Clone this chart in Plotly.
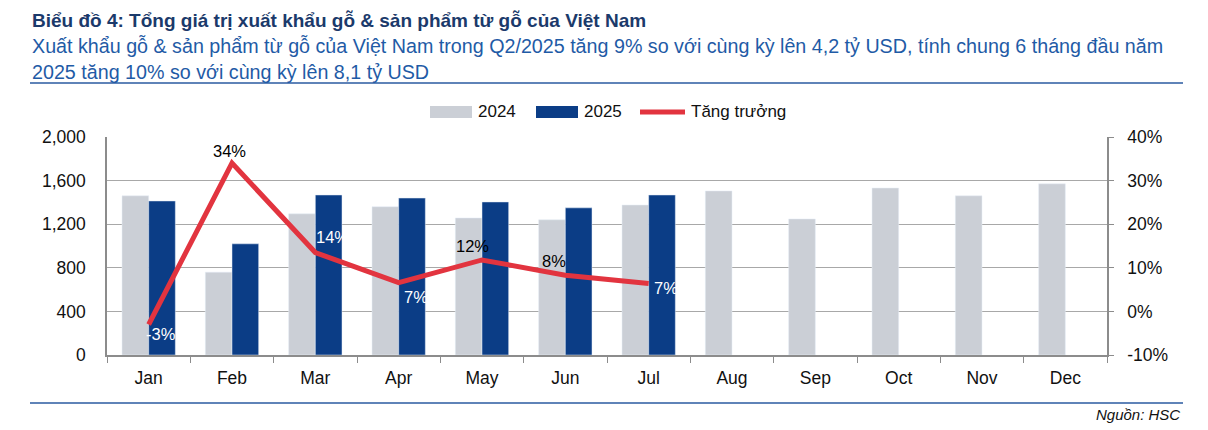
"""
Biểu đồ 4: giá trị xuất khẩu gỗ & sản phẩm từ gỗ của Việt Nam (2024 vs 2025) + tăng trưởng.
"""
import plotly.graph_objects as go

months = ["Jan", "Feb", "Mar", "Apr", "May", "Jun", "Jul", "Aug", "Sep", "Oct", "Nov", "Dec"]
export_2024 = [1460, 760, 1295, 1360, 1257, 1240, 1376, 1505, 1248, 1532, 1460, 1570]
export_2025 = [1413, 1020, 1468, 1440, 1404, 1350, 1468, None, None, None, None, None]
growth = [-0.03, 0.34, 0.135, 0.066, 0.118, 0.083, 0.064]
growth_labels = ["-3%", "34%", "14%", "7%", "12%", "8%", "7%"]
pct_ticks = [-0.1, 0, 0.1, 0.2, 0.3, 0.4]
pct_tick_labels = ["-10%", "0%", "10%", "20%", "30%", "40%"]

GRAY = "#CBCFD6"
NAVY = "#0B3D86"
RED = "#E2343F"
FONT = "Liberation Sans, Arial, sans-serif"

W, H = 1208, 430
L, R, T, B = 107, 1107, 137, 355  # vùng vẽ (pixel)

# vị trí nhãn % so với điểm (dx, dy pixel, dy dương = lên trên) và màu chữ
label_offsets = [(12, -10), (-3, 12), (17, 16), (17, -14), (-10, 14), (-11, 14), (17, -4)]
label_colors = ["white", "black", "white", "white", "black", "black", "white"]


def px(x):
    return (x - L) / (R - L)


def py(y):
    return (B - y) / (B - T)


fig = go.Figure()
fig.add_trace(go.Bar(x=months, y=export_2024, name="2024", marker_color=GRAY, showlegend=False))
fig.add_trace(go.Bar(x=months, y=export_2025, name="2025", marker_color=NAVY, showlegend=False))
fig.add_trace(go.Scatter(
    x=months[:len(growth)],
    y=growth,
    yaxis="y2",
    name="Tăng trưởng",
    mode="lines",
    line=dict(color=RED, width=5),
    showlegend=False,
))

annotations = []
for m, g, lab, (dx, dy), col in zip(months, growth, growth_labels, label_offsets, label_colors):
    annotations.append(dict(x=m, y=g, xref="x", yref="y2", text=lab, showarrow=False,
                            xshift=dx, yshift=dy, font=dict(size=16.5, color=col, family=FONT)))

# legend tự vẽ
legend_items = [(430, 472, "bar", GRAY, "2024"), (536, 578, "bar", NAVY, "2025"),
                (640, 685, "line", RED, "Tăng trưởng")]
shapes = []
for x0, x1, kind, color, label in legend_items:
    if kind == "bar":
        shapes.append(dict(type="rect", xref="paper", yref="paper", x0=px(x0), x1=px(x1),
                           y0=py(118), y1=py(106), fillcolor=color, line=dict(width=0)))
    else:
        shapes.append(dict(type="line", xref="paper", yref="paper", x0=px(x0), x1=px(x1),
                           y0=py(112), y1=py(112), line=dict(color=color, width=5)))
    annotations.append(dict(xref="paper", yref="paper", x=px(x1 + 4), y=py(112), text=label,
                            showarrow=False, xanchor="left", yanchor="middle",
                            font=dict(size=17, color="#111111", family=FONT)))

# đường kẻ trên/dưới
for yy in (83, 403):
    shapes.append(dict(type="line", xref="paper", yref="paper", x0=px(30), x1=px(1183),
                       y0=py(yy), y1=py(yy), line=dict(color="#5F83B8", width=2)))

annotations += [
    dict(xref="paper", yref="paper", x=px(30), y=py(20), xanchor="left", yanchor="middle",
         showarrow=False, text="<b>Biểu đồ 4: Tổng giá trị xuất khẩu gỗ & sản phẩm từ gỗ của Việt Nam</b>",
         font=dict(size=19, color="#1B3A6B", family=FONT)),
    dict(xref="paper", yref="paper", x=px(30), y=py(59), xanchor="left", yanchor="middle",
         showarrow=False, align="left",
         text="Xuất khẩu gỗ & sản phẩm từ gỗ của Việt Nam trong Q2/2025 tăng 9% so với cùng kỳ lên 4,2 tỷ USD, tính chung 6 tháng đầu năm"
              "<br>2025 tăng 10% so với cùng kỳ lên 8,1 tỷ USD",
         font=dict(size=19.7, color="#1F5BA6", family=FONT)),
    dict(xref="paper", yref="paper", x=px(1182), y=py(414), xanchor="right", yanchor="middle",
         showarrow=False, text="<i>Nguồn: HSC</i>",
         font=dict(size=15, color="#111111", family=FONT)),
]

fig.update_layout(
    width=W, height=H,
    margin=dict(l=L, r=W - R, t=T, b=H - B, pad=0),
    plot_bgcolor="white", paper_bgcolor="white",
    barmode="group", bargap=0.36, bargroupgap=0,
    font=dict(family=FONT, size=17.5, color="#111111"),
    xaxis=dict(range=[-0.5, 11.5], showline=True, linecolor="#8C8C8C", linewidth=1.5,
               ticks="outside", tickson="boundaries", ticklen=6, tickcolor="#8C8C8C",
               showgrid=False, ticklabelstandoff=6),
    yaxis=dict(range=[0, 2000], dtick=400, tickformat=",", showline=True, linecolor="#8C8C8C",
               linewidth=1.5, gridcolor="#A8A8A8", gridwidth=1.2, ticks="", zeroline=False,
               ticklabelstandoff=16),
    yaxis2=dict(range=[-0.1, 0.4], tickvals=pct_ticks, ticktext=pct_tick_labels,
                overlaying="y", side="right",
                showline=True, linecolor="#8C8C8C", linewidth=1.5, showgrid=False, zeroline=False,
                ticks="outside", ticklen=5, tickcolor="#8C8C8C", ticklabelstandoff=10),
    shapes=shapes,
    annotations=annotations,
)

fig.write_html("out.html", config={"displayModeBar": False},
               post_script="document.body.style.margin='0px';")
